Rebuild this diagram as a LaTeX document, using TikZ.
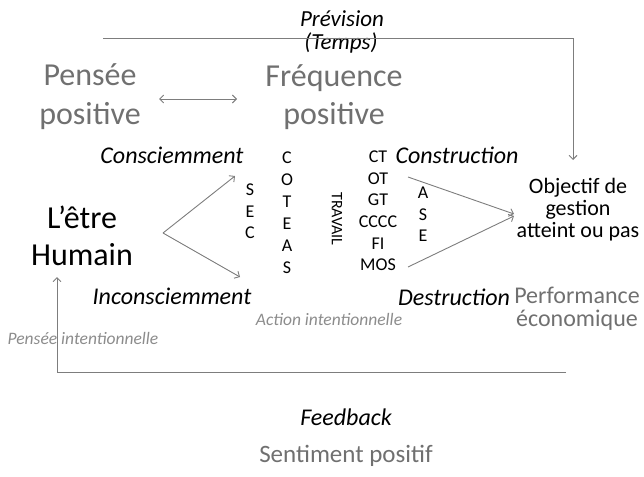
\documentclass[tikz,border=0pt]{standalone}
\usepackage{fontspec}
\setmainfont{Carlito}
\usetikzlibrary{arrows.meta}
\definecolor{biggray}{RGB}{112,112,112}
\definecolor{smallgray}{RGB}{140,140,140}
\definecolor{linegray}{RGB}{125,125,125}
\tikzset{
  txt/.style={inner sep=0pt, align=center, text=black},
  conn/.style={draw=linegray, line width=0.9pt, -{Straight Barb[length=4pt,width=8pt]}},
  dconn/.style={draw=linegray, line width=0.9pt, {Straight Barb[length=4pt,width=8pt]}-{Straight Barb[length=4pt,width=8pt]}},
}
\begin{document}
\begin{tikzpicture}[x=1pt,y=-1pt]
\useasboundingbox (0,0) rectangle (644,476);
% texts
\node[txt, font=\itshape\fontsize{23}{24}\selectfont] (prev) at (342,19) {Prévision};
\node[txt, font=\itshape\fontsize{23}{24}\selectfont] (temps) at (341,43) {(Temps)};
\node[txt, text=biggray, font=\fontsize{32}{39}\selectfont] (pensee) at (90,97) {Pensée\\positive};
\node[txt, text=biggray, font=\fontsize{32}{38}\selectfont] (freq) at (334,97) {Fréquence\\positive};
\node[txt, font=\fontsize{32}{37}\selectfont] (etre) at (82,236) {L’être\\Humain};
\node[txt, font=\itshape\fontsize{24}{28}\selectfont] (consc) at (172,155) {Consciemment};
\node[txt, font=\itshape\fontsize{24}{28}\selectfont] (incons) at (172,296) {Inconsciemment};
\node[txt, font=\fontsize{18}{22}\selectfont] (coteas) at (287,213) {C\\O\\T\\E\\A\\S};
\node[txt, font=\fontsize{18}{21.5}\selectfont] (sec) at (250,211.5) {S\\E\\C};
\node[txt, font=\fontsize{16}{18}\selectfont, rotate=-90] (travail) at (337,219) {TRAVAIL};
\node[txt, font=\fontsize{18}{21.6}\selectfont] (ctcol) at (378,211) {CT\\OT\\GT\\CCCC\\FI\\MOS};
\node[txt, font=\fontsize{18}{21.5}\selectfont] (ase) at (423,214.5) {A\\S\\E};
\node[txt, font=\itshape\fontsize{24}{28}\selectfont] (constr) at (457,155) {Construction};
\node[txt, font=\itshape\fontsize{24}{28}\selectfont] (destr) at (454,297) {Destruction};
\node[txt, font=\fontsize{22}{22}\selectfont] (obj) at (578,210) {Objectif de\\gestion\\atteint ou pas};
\node[txt, text=biggray, font=\fontsize{24}{23}\selectfont] (perf) at (577,308.5) {Performance\\économique};
\node[txt, text=smallgray, font=\itshape\fontsize{17.5}{20}\selectfont] (action) at (329,319) {Action intentionnelle};
\node[txt, text=smallgray, font=\itshape\fontsize{17.5}{20}\selectfont] (penint) at (83,338) {Pensée intentionnelle};
\node[txt, font=\itshape\fontsize{24}{28}\selectfont] (feedback) at (346,417) {Feedback};
\node[txt, text=biggray, font=\fontsize{25}{30}\selectfont] (sentiment) at (346,456) {Sentiment positif};
% coordinates
\coordinate (topL) at (103,38);
\coordinate (topR) at (573,38);
\coordinate (topT) at (573,160);
\coordinate (botR) at (566,372);
\coordinate (botL) at (57,372);
\coordinate (botT) at (57,277);
\coordinate (vtx) at (163,233);
\coordinate (vup) at (235,176);
\coordinate (vdn) at (240,277);
\coordinate (rs1) at (408,177);
\coordinate (rs2) at (408,267);
\coordinate (re1) at (514,214);
\coordinate (re2) at (514,216);
\coordinate (dL) at (159,99);
\coordinate (dR) at (237,99);
% connectors
\draw[conn] (topL) -- (topR) -- (topT);
\draw[conn] (botR) -- (botL) -- (botT);
\draw[conn] (vtx) -- (vup);
\draw[conn] (vtx) -- (vdn);
\draw[conn] (rs1) -- (re1);
\draw[conn] (rs2) -- (re2);
\draw[dconn] (dL) -- (dR);
\end{tikzpicture}
\end{document}
